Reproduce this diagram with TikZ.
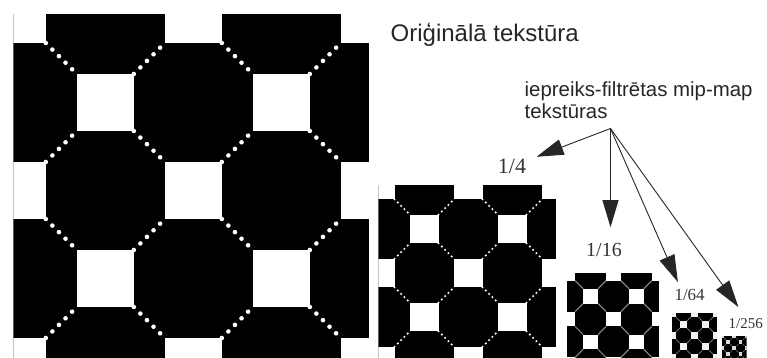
\documentclass[tikz,border=0pt]{standalone}
\usepackage{fontspec}
\setmainfont{Liberation Serif}
\newfontfamily\mipSans{Liberation Sans}
\usetikzlibrary{arrows.meta}
\newcommand{\mipTexture}[5]{%
  \begin{scope}[shift={(#1,#2)}, scale=#3]
    \clip (-4,0) rectangle (352,352);
    \fill[black] (-4,0) rectangle (352,352);
    \foreach \m in {-1,...,5}{\foreach \n in {-1,...,5}{%
      \pgfmathtruncatemacro{\mipParity}{mod(\m+\n+10,2)}%
      \ifnum\mipParity=0
        \fill[#5] (88*\m-28.5,88*\n-28.5) rectangle ++(57,57);
        \draw[#4] (88*\m+28.5,88*\n+28.5) -- ++(31,31);
        \draw[#4] (88*\m+28.5,88*\n-28.5) -- ++(31,-31);
      \fi}}
  \end{scope}}

\begin{document}
\begin{tikzpicture}[x=1pt,y=-1pt,
  mipDotsA/.style={white, line width=4.6pt, line cap=round, dash pattern=on 0pt off 9.3pt},
  mipDotsB/.style={white, line width=2.3pt, line cap=round, dash pattern=on 0pt off 4.65pt},
  mipSeamC/.style={gray, line width=1.2pt},
  mipSeamD/.style={gray, line width=0.7pt},
  mipSeamE/.style={gray, line width=0.45pt},
  mipArrow/.style={draw=black!85, line width=0.9pt, -{Triangle[length=27pt,width=16pt]}},
  mipFrac/.style={text=black!80, anchor=base west, inner sep=1pt}]
\useasboundingbox (0,0) rectangle (767,358);
\clip (0,0) rectangle (767,358);
\mipTexture{17.3}{14.5}{1}{mipDotsA}{white}
\mipTexture{380.3}{185}{0.5}{mipDotsB}{white}
\mipTexture{567.7}{273.3}{0.26}{mipSeamC}{white}
\mipTexture{672.2}{313.3}{0.127}{mipSeamD}{white!90!gray}
\mipTexture{722}{336}{0.07}{mipSeamE}{white!70!gray}
\node[font={\fontsize{24}{28}\selectfont\mipSans}, text=black!85, anchor=base west, inner sep=0pt] (title) at (390.5,41.7) {Oriģinālā tekstūra};
\node[font={\fontsize{20.4}{21.7}\selectfont\mipSans}, text=black!85, anchor=base west, align=left, inner sep=0pt] (mips) at (524.5,118.4) {iepreiks-filtrētas mip-map\\tekstūras};
\node[mipFrac, font={\fontsize{22}{26}\selectfont}] (q4) at (496.7,173.3) {1/4};
\node[mipFrac, font={\fontsize{20}{24}\selectfont}] (q16) at (585,256) {1/16};
\node[mipFrac, font={\fontsize{17}{20}\selectfont}] (q64) at (673.3,300) {1/64};
\node[mipFrac, font={\fontsize{15}{18}\selectfont}] (q256) at (727.5,328.5) {1/256};
\coordinate (src) at (610.5,128.5);
\draw[mipArrow, shorten >=10pt] (src) -- (q4);
\draw[mipArrow, shorten >=14.4pt] (src) -- (src |- q16.north);
\draw[mipArrow, shorten >=6pt] (src) -- ([xshift=7pt]q64.north west);
\draw[mipArrow, shorten >=12.7pt] (src) -- (q256.north);
\end{tikzpicture}
\end{document}
